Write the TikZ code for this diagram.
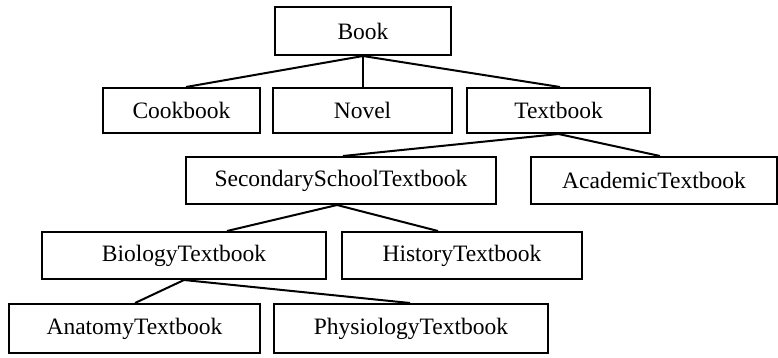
\documentclass[tikz,border=0pt]{standalone}
\usepackage{fontspec}
\setmainfont{Liberation Serif}
\usetikzlibrary{calc}
\begin{document}
\begin{tikzpicture}[x=1pt,y=-1pt,
  box/.style={draw,line width=2pt,inner sep=0pt,font=\fontsize{23.5}{25}\selectfont},
  link/.style={line width=2pt}]
\useasboundingbox (0,0) rectangle (778,357);
\node[box,minimum width=176pt,minimum height=48pt] (book) at (363,31) {Book};
\node[box,minimum width=157pt,minimum height=45pt] (cook) at (181.5,110.5) {Cookbook};
\node[box,minimum width=179pt,minimum height=45pt] (novel) at (362.5,110.5) {Novel};
\node[box,minimum width=183pt,minimum height=45pt] (text) at (558.5,110.5) {Textbook};
\node[box,minimum width=310pt,minimum height=47pt] (sec) at (341,180.5) {SecondarySchoolTextbook};
\node[box,minimum width=246pt,minimum height=47pt] (acad) at (654,180.5) {AcademicTextbook};
\node[box,minimum width=284pt,minimum height=47pt] (bio) at (184,255.5) {BiologyTextbook};
\node[box,minimum width=240pt,minimum height=47pt] (hist) at (462,255.5) {HistoryTextbook};
\node[box,minimum width=251pt,minimum height=49pt] (anat) at (134.5,328.5) {AnatomyTextbook};
\node[box,minimum width=274pt,minimum height=49pt] (phys) at (411,328.5) {PhysiologyTextbook};
\draw[link] (book.south) -- ($(cook.north)+(4.5,0)$);
\draw[link] (book.south) -- (novel.north -| book.south);
\draw[link] (book.south) -- ($(text.north)+(1.5,0)$);
\draw[link] (text.south) -- ($(sec.north)+(2,0)$);
\draw[link] (text.south) -- ($(acad.north)+(6,0)$);
\draw[link] ($(sec.south)+(-4,0)$) -- ($(bio.north)+(43,0)$);
\draw[link] ($(sec.south)+(-4,0)$) -- ($(hist.north)+(-24,0)$);
\draw[link] (bio.south) -- ($(anat.north)+(0.5,0)$);
\draw[link] (bio.south) -- ($(phys.north)+(-1,0)$);
\end{tikzpicture}
\end{document}
